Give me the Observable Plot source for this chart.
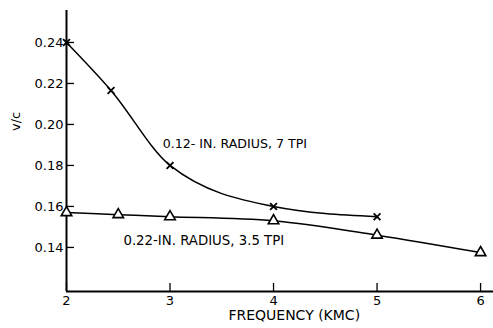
<!DOCTYPE html>
<html><head><meta charset="utf-8">
<script src="https://cdn.jsdelivr.net/npm/d3@7"></script>
<script src="https://cdn.jsdelivr.net/npm/@observablehq/plot@0.6"></script>
<style>body{margin:0;background:#fff} svg{display:block}</style>
</head><body><div id="chart"></div>
<script>
// Series 1: 0.12-in radius, 7 TPI (x marks)
const freqA = [2, 2.43, 3, 4, 5];
const vcA = [0.240, 0.2166, 0.180, 0.160, 0.155];
// Series 2: 0.22-in radius, 3.5 TPI (triangles)
const freqB = [2, 2.5, 3, 4, 5, 6];
const vcB = [0.157, 0.156, 0.155, 0.153, 0.146, 0.1375];
const xTicks = [2, 3, 4, 5, 6];
const yTicks = [0.14, 0.16, 0.18, 0.20, 0.22, 0.24];
const seriesLabels = ["0.12- IN. RADIUS, 7 TPI", "0.22-IN. RADIUS, 3.5 TPI"];
const labelFreq = [2.93, 2.55];
const labelVc = [0.1907, 0.1434];
const xTitle = "FREQUENCY (KMC)";
const yTitle = "v/c";

const xDomain = [2, 6.125];
const yDomain = [0.1185, 0.2556];

const A = freqA.map((f, i) => ({f, v: vcA[i]}));
const B = freqB.map((f, i) => ({f, v: vcB[i]}));
const L = seriesLabels.map((t, i) => ({t, f: labelFreq[i], v: labelVc[i]}));

const font = "DejaVu Sans, sans-serif";
const chart = Plot.plot({
  width: 493, height: 328,
  marginLeft: 66, marginRight: 0, marginTop: 10, marginBottom: 37,
  style: {fontFamily: font, fontSize: "13px", color: "#000", background: "#fff"},
  x: {domain: xDomain},
  y: {domain: yDomain},
  marks: [
    Plot.axisY(yTicks, {tickSize: 0, tickPadding: 3, tickFormat: d3.format(".2f"), fontSize: 13, label: null}),
    Plot.axisX(xTicks, {tickSize: 0, tickPadding: 4, tickFormat: d3.format("d"), fontSize: 13, label: null}),
    Plot.ruleY(yTicks, {x1: xDomain[0], x2: xDomain[0] + 0.077, strokeWidth: 1.3}),
    Plot.ruleX(xTicks, {y1: yDomain[0], y2: yDomain[0] + 0.0039, strokeWidth: 1.3}),
    Plot.ruleX([xDomain[0]], {y1: yDomain[0], y2: yDomain[1], strokeWidth: 2}),
    Plot.ruleY([yDomain[0]], {x1: xDomain[0], x2: xDomain[1], strokeWidth: 2}),
    Plot.line(A, {x: "f", y: "v", curve: "monotone-x", strokeWidth: 1.5}),
    Plot.line(B, {x: "f", y: "v", curve: "catmull-rom", strokeWidth: 1.5}),
    Plot.dot(A, {x: "f", y: "v", symbol: "times", r: 3.2, stroke: "#000", strokeWidth: 1.8}),
    Plot.dot(B, {x: "f", y: "v", symbol: "triangle", r: 3.9, stroke: "#000", fill: "#fff", strokeWidth: 1.6}),
    Plot.text(L.slice(0, 1), {x: "f", y: "v", text: "t", textAnchor: "start", fontSize: 12.6}),
    Plot.text(L.slice(1), {x: "f", y: "v", text: "t", textAnchor: "start", fontSize: 13.3}),
    Plot.text([yTitle], {x: [xDomain[0] - 0.493], y: [0.2015], rotate: -90, fontSize: 13}),
    Plot.text([xTitle], {x: [4.2], frameAnchor: "bottom", dy: 28, fontSize: 14})
  ]
});
document.getElementById("chart").append(chart);
</script>
</body></html>
